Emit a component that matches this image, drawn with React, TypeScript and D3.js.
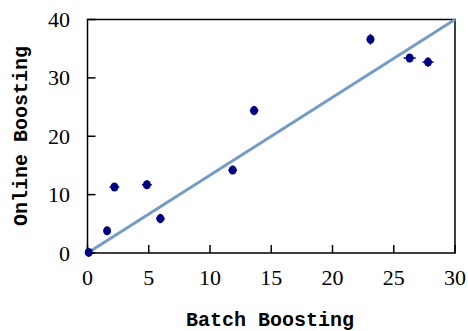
import React from "react";
import * as d3 from "d3";

const batch = [0.1, 1.6, 2.2, 4.85, 5.95, 11.85, 13.6, 23.1, 26.3, 27.8];
const online = [0.1, 3.8, 11.3, 11.7, 5.9, 14.2, 24.4, 36.6, 33.4, 32.7];
const xErr = [0.3, 0.15, 0.4, 0.4, 0.35, 0.35, 0.35, 0.15, 0.5, 0.45];
const yErr = [0.4, 0.7, 0.5, 0.7, 0.8, 0.5, 0.8, 0.9, 0.7, 0.8];
const xTicks = [0, 5, 10, 15, 20, 25, 30];
const yTicks = [0, 10, 20, 30, 40];
const diag = [[0, 0], [30, 40]];

const serif = "'Liberation Serif', 'DejaVu Serif', 'Times New Roman', serif";

export default function App() {
  const W = 468, H = 331;
  const left = 87.5, right = 455, top = 19.5, bottom = 253;
  const x = d3.scaleLinear().domain([0, 30]).range([left, right]);
  const y = d3.scaleLinear().domain([0, 40]).range([bottom, top]);
  const line = d3.line<number[]>().x(d => x(d[0])).y(d => y(d[1]));
  const navy = "#000080";
  return (
    <svg width={W} height={H} style={{ position: "absolute", left: 0, top: 0 }}>
      <rect width={W} height={H} fill="#fff" />
      <rect x={left} y={top} width={right - left} height={bottom - top} fill="none" stroke="#000" strokeWidth={1.5} />
      {xTicks.map(t => (
        <g key={"x" + t}>
          <line x1={x(t)} x2={x(t)} y1={bottom} y2={bottom - 8} stroke="#000" strokeWidth={1.5} />
          <text x={x(t)} y={285} textAnchor="middle" style={{ fontFamily: serif, fontSize: 22 }}>{t}</text>
        </g>
      ))}
      {yTicks.map(t => (
        <g key={"y" + t}>
          <line x1={left} x2={left + 8} y1={y(t)} y2={y(t)} stroke="#000" strokeWidth={1.5} />
          <text x={70} y={y(t) + 7.5} textAnchor="end" style={{ fontFamily: serif, fontSize: 22 }}>{t}</text>
        </g>
      ))}
      <path d={line(diag) || ""} stroke="#729dc8" strokeWidth={3} fill="none" />
      {batch.map((b, i) => (
        <g key={"p" + i}>
          <line x1={x(b - xErr[i])} x2={x(b + xErr[i])} y1={y(online[i])} y2={y(online[i])} stroke={navy} strokeWidth={1.5} />
          <line x1={x(b)} x2={x(b)} y1={y(online[i] - yErr[i])} y2={y(online[i] + yErr[i])} stroke={navy} strokeWidth={1.5} />
          <ellipse cx={x(b)} cy={y(online[i])} rx={4} ry={4.5} fill={navy} />
        </g>
      ))}
      <text x={270} y={326} textAnchor="middle" style={{ fontFamily: "'Liberation Mono', monospace", fontWeight: "bold", fontSize: 20 }}>Batch Boosting</text>
      <text transform={`translate(27,136) rotate(-90)`} textAnchor="middle" style={{ fontFamily: "'Liberation Mono', monospace", fontWeight: "bold", fontSize: 20 }}>Online Boosting</text>
    </svg>
  );
}
